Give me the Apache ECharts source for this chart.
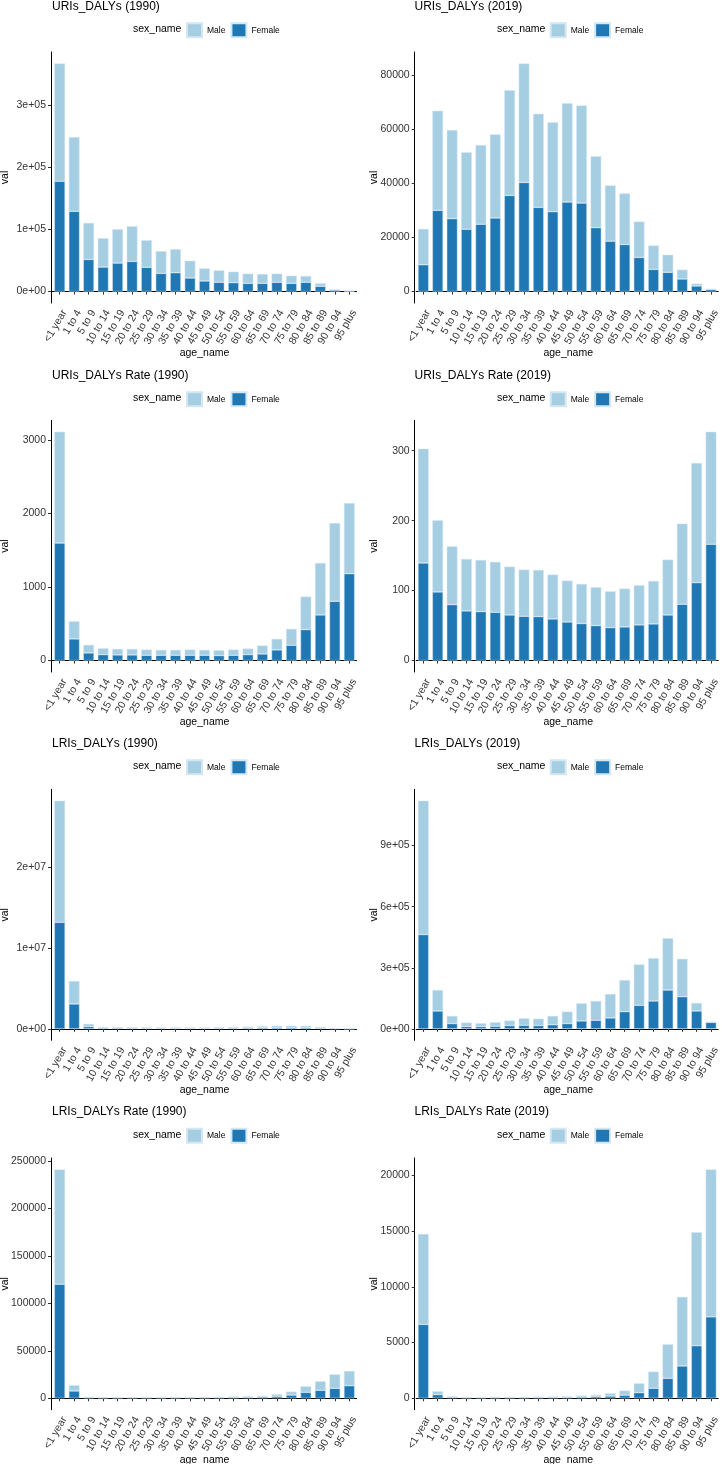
<!DOCTYPE html>
<html><head><meta charset="utf-8">
<script src="https://cdn.jsdelivr.net/npm/echarts@6/dist/echarts.min.js"></script>
<style>html,body{margin:0;padding:0;background:#fff}#c{width:722px;height:1464px}</style>
</head><body><div id="c"></div>
<script>
// ---------- DATA ----------
const ageGroups = ['<1 year','1 to 4','5 to 9','10 to 14','15 to 19','20 to 24','25 to 29','30 to 34','35 to 39','40 to 44','45 to 49','50 to 54','55 to 59','60 to 64','65 to 69','70 to 74','75 to 79','80 to 84','85 to 89','90 to 94','95 plus'];
const sexNames = ['Male', 'Female'];
const panelTitles = ['URIs_DALYs (1990)','URIs_DALYs (2019)','URIs_DALYs Rate (1990)','URIs_DALYs Rate (2019)','LRIs_DALYs (1990)','LRIs_DALYs (2019)','LRIs_DALYs Rate (1990)','LRIs_DALYs Rate (2019)'];

const female_URI_1990 = [177600,129100,51700,39500,45900,48500,39000,29300,30400,21900,17100,15000,14400,13300,13300,15000,13300,15000,8500,2500,900];
const male_URI_1990   = [189400,119400,58700,46400,54400,56600,43700,35800,37900,27700,20200,19100,17600,15500,15000,13800,12300,10100,4800,1000,900];
const ticks_URI_1990  = [0,100000,200000,300000];
const tickLabels_URI_1990 = ['0e+00','1e+05','2e+05','3e+05'];

const female_URI_2019 = [9920,30020,26950,23030,24870,27200,35530,40310,31120,29530,33080,32710,23640,18620,17400,12620,8210,7110,4660,2080,800];
const male_URI_2019   = [13230,36750,32710,28420,29280,30870,38830,43980,34550,33070,36510,36020,26340,20580,18860,13230,8820,6490,3430,860,200];
const ticks_URI_2019  = [0,20000,40000,60000,80000];
const tickLabels_URI_2019 = ['0','20000','40000','60000','80000'];

const female_URIrate_1990 = [1597,294,104,81,77,77,72,72,72,72,72,68,72,81,90,145,208,421,620,805,1181];
const male_URIrate_1990   = [1512,240,109,86,81,81,77,73,73,77,73,72,77,82,114,149,222,448,706,1064,959];
const ticks_URIrate_1990  = [0,1000,2000,3000];
const tickLabels_URIrate_1990 = ['0','1000','2000','3000'];

const female_URIrate_2019 = [139.5,98.1,80.0,71.0,70.0,69.0,65.2,63.3,62.9,59.5,55.2,52.9,50.0,47.1,48.1,51.0,52.4,65.2,80.5,111.4,166.2];
const male_URIrate_2019   = [163.4,102.4,83.3,74.2,73.8,72.0,69.1,66.7,66.6,63.4,59.1,56.6,54.8,51.9,54.8,56.6,61.4,79.1,115.2,171.0,160.9];
const ticks_URIrate_2019  = [0,100,200,300];
const tickLabels_URIrate_2019 = ['0','100','200','300'];

const female_LRI_1990 = [13210000,3090000,288000,120000,115000,100000,95000,90000,85000,85000,90000,100000,110000,125000,145000,170000,175000,170000,110000,45000,20000];
const male_LRI_1990   = [15060000,2840000,329000,110000,110000,95000,90000,90000,85000,85000,90000,105000,130000,150000,180000,210000,205000,200000,130000,45000,10000];
const ticks_LRI_1990  = [0,10000000,20000000];
const tickLabels_LRI_1990 = ['0e+00','1e+07','2e+07'];

const female_LRI_2019 = [463000,88000,26100,11400,11400,13000,16300,17900,16500,20400,26100,39100,42400,53800,84800,115800,137000,190800,158200,88000,32000];
const male_LRI_2019   = [657000,102800,37500,19600,16300,19600,24500,34300,33500,43200,58700,86400,94600,117400,154900,200500,210300,254300,185800,39200,2000];
const ticks_LRI_2019  = [0,300000,600000,900000];
const tickLabels_LRI_2019 = ['0e+00','3e+05','6e+05','9e+05'];

const female_LRIrate_1990 = [120300,7700,700,550,550,600,600,600,620,650,680,750,850,1050,1300,2000,3400,6300,8400,10500,13300];
const male_LRIrate_1990   = [120900,6000,800,650,650,700,700,750,780,800,820,850,950,1050,1150,2200,3600,6300,9500,14700,15500];
const ticks_LRIrate_1990  = [0,50000,100000,150000,200000,250000];
const tickLabels_LRIrate_1990 = ['0','50000','100000','150000','200000','250000'];

const female_LRIrate_2019 = [6630,330,90,55,55,60,60,65,70,75,80,110,140,200,280,510,900,1790,2900,4720,7310];
const male_LRIrate_2019   = [8120,300,90,55,55,60,60,65,70,75,85,130,160,250,410,830,1490,3050,6200,10180,13230];
const ticks_LRIrate_2019  = [0,5000,10000,15000,20000];
const tickLabels_LRIrate_2019 = ['0','5000','10000','15000','20000'];

// ---------- BUILD ----------
const panels = [
  {female: female_URI_1990, male: male_URI_1990, ticks: ticks_URI_1990, labels: tickLabels_URI_1990},
  {female: female_URI_2019, male: male_URI_2019, ticks: ticks_URI_2019, labels: tickLabels_URI_2019},
  {female: female_URIrate_1990, male: male_URIrate_1990, ticks: ticks_URIrate_1990, labels: tickLabels_URIrate_1990},
  {female: female_URIrate_2019, male: male_URIrate_2019, ticks: ticks_URIrate_2019, labels: tickLabels_URIrate_2019},
  {female: female_LRI_1990, male: male_LRI_1990, ticks: ticks_LRI_1990, labels: tickLabels_LRI_1990},
  {female: female_LRI_2019, male: male_LRI_2019, ticks: ticks_LRI_2019, labels: tickLabels_LRI_2019},
  {female: female_LRIrate_1990, male: male_LRIrate_1990, ticks: ticks_LRIrate_1990, labels: tickLabels_LRIrate_1990},
  {female: female_LRIrate_2019, male: male_LRIrate_2019, ticks: ticks_LRIrate_2019, labels: tickLabels_LRIrate_2019}
];

const FONT = '"Liberation Sans", Arial, Helvetica, sans-serif';
const MALE_COLOR = '#a6cee3', FEMALE_COLOR = '#1f78b4', BAR_EDGE = '#d4e7f2';
const colLeft = [51, 414.7], plotW = 307;
const rowTop = [52, 420.3, 789.3, 1158], rowBottom = [303, 672, 1040.3, 1409.7];
const titleY = [6.3, 375.7, 743.7, 1111.7], legendY = [29.3, 398.3, 766.3, 1134.7];
const titleX = [52, 414.5], legendTitleX = [133, 497], legendKeyX = [186, 549.7], valX = [5.5, 373.7];
const inset = plotW / 21.2 * 0.1;

const grids = [], xAxes = [], yAxes = [], series = [], legends = [], graphics = [];
panels.forEach((p, i) => {
  const row = Math.floor(i / 2), col = i % 2;
  const top = rowTop[row], bottom = rowBottom[row];
  let maxTot = 0;
  p.female.forEach((f, k) => { maxTot = Math.max(maxTot, f + p.male[k]); });
  grids.push({left: colLeft[col] + inset, top: top, width: plotW - 2 * inset, height: bottom - top, containLabel: false});
  xAxes.push({
    type: 'category', gridIndex: i, data: ageGroups,
    axisLine: {show: true, lineStyle: {color: '#000', width: 1}},
    axisTick: {show: true, alignWithLabel: true, length: 3, lineStyle: {color: '#333'}},
    axisLabel: {interval: 0, rotate: 60, fontSize: 10.5, fontFamily: FONT, color: '#333', margin: 5, align: 'right', verticalAlign: 'top'}
  });
  yAxes.push({
    type: 'value', gridIndex: i, min: -0.05 * maxTot, max: 1.05 * maxTot, offset: inset,
    splitLine: {show: false},
    axisLine: {show: true, lineStyle: {color: '#000', width: 1}},
    axisTick: {show: true, length: 3, lineStyle: {color: '#333'}, customValues: p.ticks},
    axisLabel: {fontSize: 10.5, fontFamily: FONT, color: '#333', margin: 5, customValues: p.ticks,
      formatter: (v) => { const k = p.ticks.indexOf(v); return k >= 0 ? p.labels[k] : ''; }}
  });
  const common = {type: 'bar', stack: 's' + i, xAxisIndex: i, yAxisIndex: i, barWidth: 10.7, animation: false,
    emphasis: {disabled: true}};
  series.push(Object.assign({}, common, {name: 'Female', data: p.female,
    itemStyle: {color: FEMALE_COLOR, borderColor: BAR_EDGE, borderWidth: 0.5}}));
  series.push(Object.assign({}, common, {name: 'Male', data: p.male,
    itemStyle: {color: MALE_COLOR, borderColor: BAR_EDGE, borderWidth: 0.5}}));
  legends.push({data: sexNames, left: legendKeyX[col], top: legendY[row] - 7, itemWidth: 15, itemHeight: 14, itemGap: 5,
    padding: 0, selectedMode: false, icon: 'rect',
    textStyle: {fontSize: 8.5, fontFamily: FONT, color: '#000'}});
  graphics.push({type: 'text', x: titleX[col], y: titleY[row],
    style: {text: panelTitles[i], font: '12px ' + FONT, fill: '#000', textVerticalAlign: 'middle', textAlign: 'left'}});
  graphics.push({type: 'text', x: legendTitleX[col], y: legendY[row],
    style: {text: 'sex_name', font: '10.5px ' + FONT, fill: '#000', textVerticalAlign: 'middle', textAlign: 'left'}});
  graphics.push({type: 'text', x: valX[col], y: (top + bottom) / 2, rotation: Math.PI / 2,
    style: {text: 'val', font: '10.5px ' + FONT, fill: '#000', textVerticalAlign: 'middle', textAlign: 'center'}});
  graphics.push({type: 'text', x: colLeft[col] + plotW / 2, y: bottom + 50,
    style: {text: 'age_name', font: '10.5px ' + FONT, fill: '#000', textVerticalAlign: 'middle', textAlign: 'center'}});
});

const chart = echarts.init(document.getElementById('c'), null, {renderer: 'canvas'});
chart.setOption({
  backgroundColor: '#fff', animation: false,
  grid: grids, xAxis: xAxes, yAxis: yAxes, series: series, legend: legends,
  graphic: {elements: graphics}
});
</script></body></html>
